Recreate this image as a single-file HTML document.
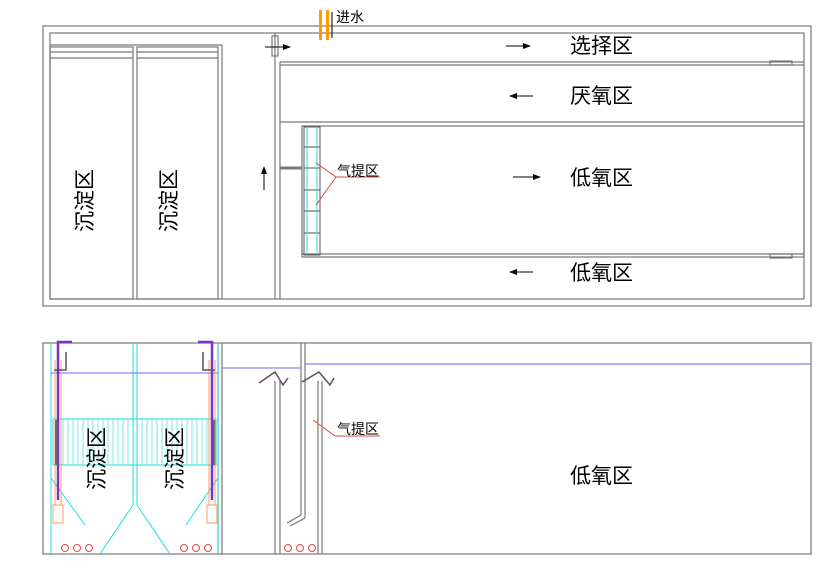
<!DOCTYPE html>
<html><head><meta charset="utf-8"><style>
html,body{margin:0;padding:0;background:#fff;}
svg{display:block;}
text{font-family:"Liberation Sans","Noto Sans CJK SC",sans-serif;fill:#000;}
</style></head><body>
<svg width="832" height="579" viewBox="0 0 832 579" xmlns="http://www.w3.org/2000/svg">
<defs><marker id="ah" markerWidth="8" markerHeight="6" refX="7" refY="3" orient="auto" markerUnits="userSpaceOnUse"><path d="M0 0 L8 3 L0 6 Z" fill="#000"/></marker></defs>
<g fill="none" stroke="#777" stroke-width="1.2">
<rect x="43" y="26" width="768" height="280"/>
<rect x="50" y="33" width="754" height="266"/>
<line x1="50" y1="45" x2="222" y2="45"/>
<rect x="50" y="47" width="83" height="252"/>
<rect x="137" y="47" width="81" height="252"/>
<line x1="50" y1="52" x2="133" y2="52"/><line x1="50" y1="58" x2="133" y2="58"/>
<line x1="137" y1="52" x2="218" y2="52"/><line x1="137" y1="58" x2="218" y2="58"/>
<line x1="222" y1="45" x2="222" y2="299"/><line x1="275" y1="33" x2="275" y2="299"/>
<line x1="280" y1="62" x2="280" y2="299"/>
<line x1="280" y1="62" x2="804" y2="62"/><line x1="280" y1="65" x2="804" y2="65"/>
<line x1="280" y1="122" x2="804" y2="122"/>
<rect x="302" y="126" width="502" height="131"/>
<line x1="302" y1="254" x2="804" y2="254"/>
<line x1="280" y1="168" x2="302" y2="168" stroke-width="3"/>
<rect x="770" y="61" width="22" height="4"/><rect x="770" y="254" width="22" height="4"/>
<rect x="272" y="36" width="6" height="20"/>
</g>
<line x1="265" y1="47" x2="290" y2="47" stroke="#000" marker-end="url(#ah)"/>
<g stroke="#555" fill="none">
<rect x="304" y="127" width="16" height="128"/>
<line x1="304" y1="147" x2="320" y2="147"/><line x1="304" y1="168" x2="320" y2="168"/>
<line x1="304" y1="190" x2="320" y2="190"/><line x1="304" y1="211" x2="320" y2="211"/>
<line x1="304" y1="233" x2="320" y2="233"/>
</g>
<g stroke="#2dd" fill="none"><line x1="307" y1="128" x2="307" y2="254"/><line x1="317" y1="128" x2="317" y2="254"/></g>
<g stroke="#d44" fill="none"><path d="M380 177 L336 177 L316 163 M336 177 L316 205"/></g>
<rect x="319" y="10" width="3" height="30" fill="#f90"/><rect x="326" y="10" width="3" height="30" fill="#f90"/>
<line x1="332" y1="12" x2="332" y2="38" stroke="#000"/>
<text x="336" y="22" font-size="14">进水</text>
<text x="337" y="176" font-size="14">气提区</text>
<g font-size="21">
<text x="570" y="53">选择区</text><text x="570" y="103">厌氧区</text>
<text x="570" y="185">低氧区</text><text x="570" y="280">低氧区</text>
<text x="570" y="483">低氧区</text>
</g>
<g stroke="#000">
<line x1="506" y1="46" x2="530" y2="46" marker-end="url(#ah)"/>
<line x1="533" y1="96" x2="510" y2="96" marker-end="url(#ah)"/>
<line x1="513" y1="177" x2="540" y2="177" marker-end="url(#ah)"/>
<line x1="533" y1="272" x2="510" y2="272" marker-end="url(#ah)"/>
<line x1="264" y1="190" x2="264" y2="167" marker-end="url(#ah)"/></g>
<text font-size="21" transform="translate(92,232) rotate(-90)">沉淀区</text>
<text font-size="21" transform="translate(176,232) rotate(-90)">沉淀区</text>
<g fill="none" stroke="#777" stroke-width="1.2">
<rect x="43" y="343" width="768" height="211"/>
<line x1="218" y1="343" x2="218" y2="554"/><line x1="222" y1="343" x2="222" y2="554"/>
<line x1="301" y1="343" x2="301" y2="515"/><line x1="305" y1="343" x2="305" y2="518"/>
<path d="M301 515 L287 523 M305 518 L290 526"/>
<line x1="275" y1="381" x2="275" y2="554"/><line x1="280" y1="381" x2="280" y2="554"/>
<line x1="318" y1="381" x2="318" y2="554"/><line x1="322" y1="381" x2="322" y2="554"/>
</g>
<g stroke="#2dd" fill="none">
<line x1="51" y1="343" x2="51" y2="554"/><line x1="133" y1="343" x2="133" y2="505"/><line x1="137" y1="343" x2="137" y2="505"/><line x1="218" y1="343" x2="218" y2="554"/>
<path d="M133 505 L100 554 M137 505 L170 554 M51 478 L85 525 M218 478 L186 525"/>
<rect x="53" y="419" width="163" height="46"/>
</g>
<g stroke="#2dd" stroke-width="0.6">
<path d="M58 419v46M63 419v46M68 419v46M73 419v46M78 419v46M83 419v46M88 419v46M93 419v46M98 419v46M103 419v46M108 419v46M113 419v46M118 419v46M123 419v46M128 419v46M142 419v46M147 419v46M152 419v46M157 419v46M162 419v46M167 419v46M172 419v46M177 419v46M182 419v46M187 419v46M192 419v46M197 419v46M202 419v46M207 419v46"/>
</g>
<g stroke="#66f"><line x1="51" y1="373" x2="218" y2="373"/><line x1="222" y1="368" x2="301" y2="368"/><line x1="305" y1="364" x2="811" y2="364"/></g>
<g stroke="#73c" stroke-width="2.5" fill="none"><path d="M58 500 L58 342 L72 342"/><path d="M212 500 L212 342 L198 342"/></g>
<g stroke="#f96" fill="none"><rect x="53" y="505" width="10" height="18"/><rect x="207" y="505" width="10" height="18"/>
<line x1="55" y1="360" x2="55" y2="505"/><line x1="61" y1="360" x2="61" y2="505"/>
<line x1="209" y1="360" x2="209" y2="505"/><line x1="215" y1="360" x2="215" y2="505"/></g>
<g stroke="#555" fill="none" stroke-width="1.5"><path d="M56 420v45M214 420v45"/><path d="M66 352v18h-12M203 352v18h12"/>
<path d="M259 383 L275 372 L283 385 L288 378 M302 382 L319 372 L330 385 L334 378"/></g>
<g stroke="#e44" fill="none"><circle cx="65" cy="548" r="3.5"/><circle cx="77" cy="548" r="3.5"/><circle cx="89" cy="548" r="3.5"/>
<circle cx="184" cy="548" r="3.5"/><circle cx="196" cy="548" r="3.5"/><circle cx="208" cy="548" r="3.5"/>
<circle cx="288" cy="548" r="3.5"/><circle cx="300" cy="548" r="3.5"/><circle cx="312" cy="548" r="3.5"/>
<path d="M313 420 L335 436 L380 436"/></g>
<text x="337" y="434" font-size="14">气提区</text>
<text font-size="21" transform="translate(104,490) rotate(-90)">沉淀区</text>
<text font-size="21" transform="translate(182,490) rotate(-90)">沉淀区</text>
</svg>
</body></html>
